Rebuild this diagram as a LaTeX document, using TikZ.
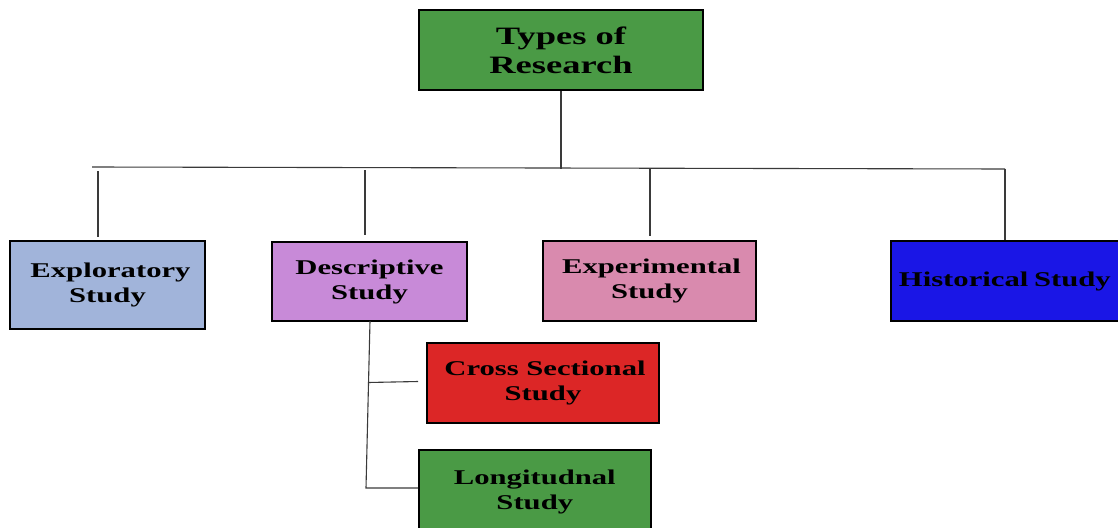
\documentclass[tikz,border=0pt]{standalone}
\usepackage{fontspec}
\setmainfont{Liberation Serif}[FakeStretch=1.46]
\definecolor{boxgreen}{HTML}{4A9A45}
\definecolor{boxblue}{HTML}{A1B4DA}
\definecolor{boxviolet}{HTML}{C88AD8}
\definecolor{boxpink}{HTML}{D98AAE}
\definecolor{boxroyal}{HTML}{1A16E6}
\definecolor{boxred}{HTML}{DC2626}
\definecolor{linkgray}{HTML}{3A3A3A}
\tikzset{
  box/.style={draw=black, line width=1.6pt, inner sep=0pt, align=center,
    font=\fontsize{21}{25}\selectfont\bfseries},
  link/.style={draw=linkgray, line width=1.1pt},
}
\begin{document}
\begin{tikzpicture}[x=1pt,y=-1pt]
\useasboundingbox (0,0) rectangle (1118,527);
% root
\node[box, fill=boxgreen, minimum width=284pt, minimum height=80pt,
  font=\fontsize{25}{29}\selectfont\bfseries] (root) at (561,50) {Types of\\Research};
% first level
\node[box, fill=boxblue, minimum width=195pt, minimum height=88pt] (expl) at (107.5,285) {\hspace*{6pt}Exploratory\\Study};
\node[box, fill=boxviolet, minimum width=195pt, minimum height=79pt] (desc) at (369.5,281.5) {Descriptive\\Study};
\node[box, fill=boxpink, minimum width=213pt, minimum height=80pt] (expe) at (649.5,281) {\hspace*{4pt}Experimental\\Study};
\node[box, fill=boxroyal, minimum width=232pt, minimum height=80pt, anchor=west] (hist) at (890,281) {Historical\kern-2pt\ Study\hspace*{4pt}};
% second level
\node[box, fill=boxred, minimum width=232pt, minimum height=80pt] (cross) at (543,383) {\hspace*{4pt}Cross Sectional\\Study};
\node[box, fill=boxgreen, minimum width=232pt, minimum height=84pt, anchor=north west] (longi) at (418,449) {Longitudnal\\Study};
% bus line
\coordinate (busL) at (92,167);
\coordinate (busR) at (1005,169);
\coordinate (busM) at (561,168.5);
\draw[link] (busL) -- (busR);
\draw[link] (root.south) -- (busM);
% drops
\coordinate (d1) at (98,171);
\coordinate (d1e) at (98,237);
\coordinate (d2) at (365,170);
\coordinate (d2e) at (365,235);
\coordinate (d3) at (650,169);
\coordinate (d3e) at (650,236);
\draw[link] (d1) -- (d1e);
\draw[link] (d2) -- (d2e);
\draw[link] (d3) -- (d3e);
\draw[link] (busR) -- (busR |- hist.north);
% descriptive branch
\coordinate (b0) at (370,321);
\coordinate (bm) at (368,382.5);
\coordinate (bme) at (418,381.5);
\coordinate (b1) at (366,488);
\draw[link] (b0) -- (b1) -- (b1 -| longi.west);
\draw[link] (bm) -- (bme);
\end{tikzpicture}
\end{document}
